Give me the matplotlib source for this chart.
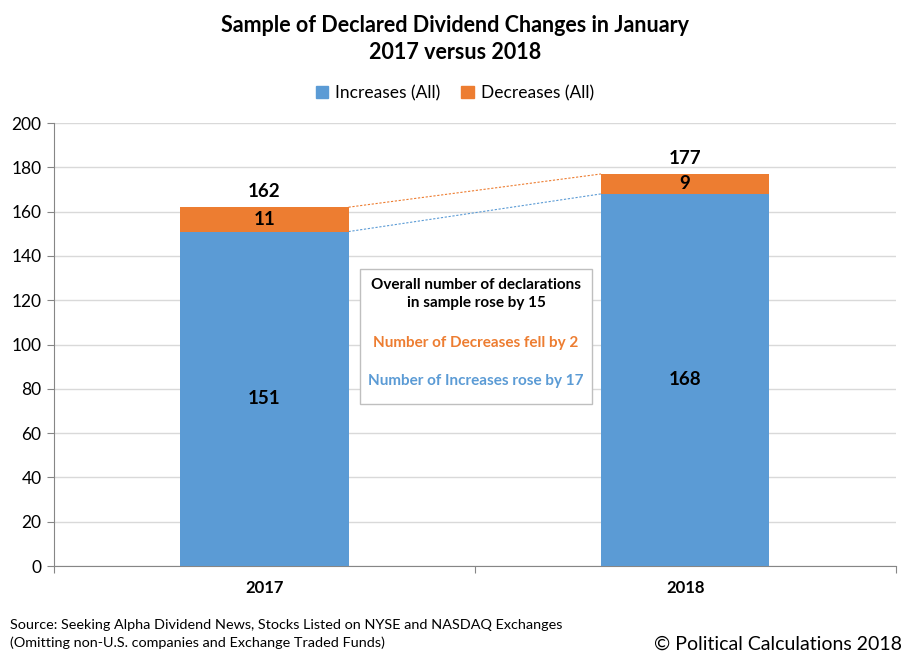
import matplotlib.pyplot as plt
from matplotlib.patches import Patch

plt.rcParams['font.family'] = ['Lato', 'DejaVu Sans']

# datos
anios = ['2017', '2018']
aumentos = [151, 168]
disminuciones = [11, 9]
totales = [a + d for a, d in zip(aumentos, disminuciones)]

azul = '#5B9BD5'
naranja = '#ED7D31'

fig = plt.figure(figsize=(9.11, 6.6), dpi=100)
ax = fig.add_axes([0.0593, 0.1424, 0.9237, 0.6712])

x = range(len(anios))
ancho = 0.4
ax.bar(x, aumentos, width=ancho, color=azul, zorder=3)
ax.bar(x, disminuciones, width=ancho, bottom=aumentos, color=naranja, zorder=3)

# etiquetas de valores
for i in x:
    ax.text(i, aumentos[i] / 2, str(aumentos[i]), ha='center', va='center',
            fontsize=13.5, fontweight='bold', zorder=4)
    ax.text(i, aumentos[i] + disminuciones[i] / 2, str(disminuciones[i]), ha='center',
            va='center', fontsize=13.5, fontweight='bold', zorder=4)
    ax.text(i, totales[i] + 7, str(totales[i]), ha='center', va='center',
            fontsize=13.5, fontweight='bold', zorder=4)

# lineas punteadas entre barras
ax.plot([0 + ancho / 2, 1 - ancho / 2], [totales[0], totales[1]], color=naranja,
        linestyle=(0, (2, 1.5)), linewidth=0.8, zorder=2)
ax.plot([0 + ancho / 2, 1 - ancho / 2], [aumentos[0], aumentos[1]], color=azul,
        linestyle=(0, (2, 1.5)), linewidth=0.8, zorder=2)

ax.set_xlim(-0.5, 1.5)
ax.set_ylim(0, 200)
ax.set_yticks(range(0, 201, 20))
ax.set_xticks([-0.5, 0.5, 1.5], minor=False)
ax.set_xticklabels([])
ax.set_xticks(list(x), minor=True)
ax.set_xticklabels(anios, minor=True, fontsize=12, fontweight='bold')
ax.tick_params(axis='x', which='minor', length=0, pad=10)
ax.tick_params(axis='x', which='major', length=5, color='#868686')
ax.tick_params(axis='y', length=5, color='#868686', labelsize=12.5, pad=4)
ax.yaxis.grid(True, color='#d9d9d9', linewidth=1, zorder=0)
ax.set_axisbelow(True)
for s in ['top', 'right']:
    ax.spines[s].set_visible(False)
for s in ['left', 'bottom']:
    ax.spines[s].set_color('#868686')

# cuadro de texto
fig.patches.append(plt.Rectangle((360 / 911, 1 - 404 / 660), 232 / 911, 135 / 660,
                                 transform=fig.transFigure, facecolor='white',
                                 edgecolor='#bfbfbf', linewidth=1, zorder=5))
cx = 476 / 911
fig.text(cx, 1 - 294 / 660, 'Overall number of declarations\nin sample rose by 15',
         ha='center', va='center', fontsize=11, fontweight='bold', linespacing=1.35, zorder=6)
fig.text(cx, 1 - 343 / 660, 'Number of Decreases fell by 2', ha='center', va='center',
         fontsize=11, fontweight='bold', color=naranja, zorder=6)
fig.text(cx, 1 - 381 / 660, 'Number of Increases rose by 17', ha='center', va='center',
         fontsize=11, fontweight='bold', color=azul, zorder=6)

# titulo y leyenda
fig.text(455 / 911, 1 - 39 / 660, 'Sample of Declared Dividend Changes in January\n2017 versus 2018',
         ha='center', va='center', fontsize=15.5, fontweight='bold', linespacing=1.4)
fig.legend(handles=[Patch(color=azul, label='Increases (All)'),
                    Patch(color=naranja, label='Decreases (All)')],
           loc='center', bbox_to_anchor=(455 / 911, 1 - 93 / 660), ncol=2, frameon=False,
           fontsize=12.5, handlelength=0.7, handleheight=0.7, handletextpad=0.4, columnspacing=1.2)

# notas
fig.text(10 / 911, 1 - 634 / 660,
         'Source: Seeking Alpha Dividend News, Stocks Listed on NYSE and NASDAQ Exchanges\n'
         '(Omitting non-U.S. companies and Exchange Traded Funds)',
         ha='left', va='center', fontsize=10.4, linespacing=1.6)
fig.text(902 / 911, 1 - 644 / 660, '© Political Calculations 2018', ha='right', va='center',
         fontsize=14)

fig.savefig('out.png', dpi=100)
